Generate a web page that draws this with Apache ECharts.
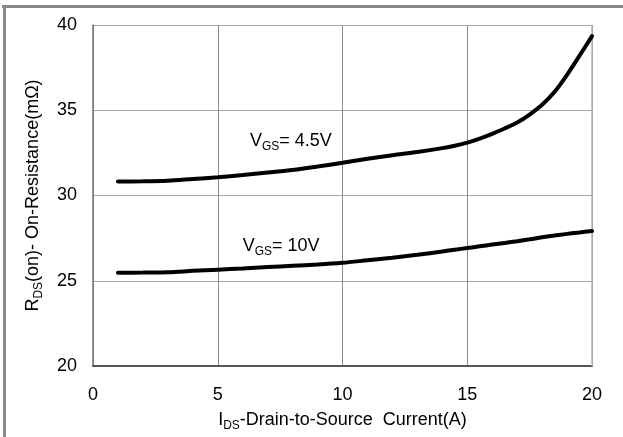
<!DOCTYPE html>
<html>
<head>
<meta charset="utf-8">
<script src="https://cdn.jsdelivr.net/npm/echarts@6/dist/echarts.min.js"></script>
<style>
html,body{margin:0;padding:0;background:#fff;}
#chart{position:absolute;left:0;top:0;width:623px;height:437px;}
</style>
</head>
<body>
<div id="chart"></div>
<script>
// Data
var currentA = [1, 2, 3, 4, 5, 6, 7, 8, 9, 10, 11, 12, 13, 14, 14.5, 15, 15.5, 16, 16.5, 17, 17.5, 18, 18.5, 19, 19.5, 20];
var rds45 = [30.82, 30.83, 30.87, 30.97, 31.07, 31.2, 31.35, 31.5, 31.7, 31.92, 32.15, 32.36, 32.55, 32.78, 32.92, 33.1, 33.34, 33.62, 33.93, 34.28, 34.75, 35.32, 36.08, 37.08, 38.2, 39.35];
var rds10 = [25.47, 25.48, 25.5, 25.58, 25.65, 25.72, 25.8, 25.88, 25.95, 26.05, 26.2, 26.35, 26.52, 26.72, 26.82, 26.92, 27.02, 27.12, 27.22, 27.32, 27.43, 27.55, 27.65, 27.75, 27.83, 27.92];
var xTicks = [0, 5, 10, 15, 20];
var yTicks = [20, 25, 30, 35, 40];
var curveLabels = [
  {sub: 'GS', text: '= 4.5V', at: [6.29, 33.2]},
  {sub: 'GS', text: '= 10V', at: [6.0, 27.05]}
];

function pairs(xs, ys) { return xs.map(function (x, i) { return [x, ys[i]]; }); }

var FONT = '"Liberation Sans", Arial, sans-serif';
var richStyle = {
  a: {fontSize: 18, fontFamily: FONT, color: '#000', lineHeight: 24, verticalAlign: 'middle'},
  b: {fontSize: 12, fontFamily: FONT, color: '#000', lineHeight: 12, verticalAlign: 'bottom'}
};

var chart = echarts.init(document.getElementById('chart'), null, {renderer: 'canvas'});
var option = {
  animation: false,
  backgroundColor: '#fff',
  grid: {left: 93, right: 31, top: 25, bottom: 68, containLabel: false},
  xAxis: {
    type: 'value', min: xTicks[0], max: xTicks[xTicks.length - 1], interval: 5,
    name: '{a|I}{b|DS}{a|-Drain-to-Source  Current(A)}',
    nameLocation: 'middle', nameGap: 42,
    nameTextStyle: {rich: richStyle},
    axisLine: {show: true, lineStyle: {color: '#555', width: 2}},
    axisTick: {show: false},
    axisLabel: {fontSize: 18, fontFamily: FONT, color: '#000', margin: 20},
    splitLine: {show: true, lineStyle: {color: '#8c8c8c', width: 1}}
  },
  yAxis: {
    type: 'value', min: yTicks[0], max: yTicks[yTicks.length - 1], interval: 5,
    name: '{a|R}{b|DS}{a|(on)- On-Resistance(mΩ)}',
    nameLocation: 'middle', nameGap: 48, nameRotate: 90,
    nameTextStyle: {rich: richStyle},
    axisLine: {show: true, lineStyle: {color: '#777', width: 1.5}},
    axisTick: {show: false},
    axisLabel: {fontSize: 18, fontFamily: FONT, color: '#000', margin: 16},
    splitLine: {show: true, lineStyle: {color: '#a6a6a6', width: 1}}
  },
  series: [
    {type: 'line', data: pairs(currentA, rds45), smooth: 0.3, symbol: 'none',
     lineStyle: {color: '#000', width: 4, cap: 'round'}},
    {type: 'line', data: pairs(currentA, rds10), smooth: 0.3, symbol: 'none',
     lineStyle: {color: '#000', width: 4, cap: 'round'}}
  ]
};
chart.setOption(option);

// right border of plot area & annotations placed via the chart's own scales
var rt = chart.convertToPixel({gridIndex: 0}, [20, 40]);
var lb = chart.convertToPixel({gridIndex: 0}, [0, 20]);
var graphics = [
  {type: 'line', shape: {x1: rt[0], y1: rt[1], x2: rt[0], y2: lb[1]}, style: {stroke: '#b5b5b5', lineWidth: 1.5}, z: 1},
  {type: 'line', shape: {x1: 2, y1: 6.5, x2: 623, y2: 6.5}, style: {stroke: '#888', lineWidth: 3}},
  {type: 'line', shape: {x1: 4.5, y1: 5, x2: 4.5, y2: 437}, style: {stroke: '#888', lineWidth: 3}}
];
curveLabels.forEach(function (c) {
  var p = chart.convertToPixel({gridIndex: 0}, c.at);
  graphics.push({
    type: 'text', x: p[0], y: p[1],
    style: {text: '{a|V}{b|' + c.sub + '}{a|' + c.text + '}', rich: richStyle, align: 'left', verticalAlign: 'middle'}
  });
});
chart.setOption({graphic: graphics});
</script>
</body>
</html>
